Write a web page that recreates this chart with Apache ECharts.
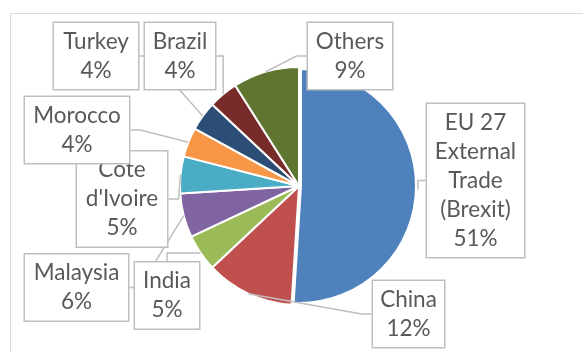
<!DOCTYPE html>
<html>
<head>
<meta charset="utf-8">
<script src="https://cdn.jsdelivr.net/npm/echarts@6/dist/echarts.min.js"></script>
<style>
html,body{margin:0;padding:0;background:#fff;}
#chart{width:583px;height:352px;}
</style>
</head>
<body>
<div id="chart"></div>
<script>
// Data
const categories = ["EU 27 External Trade (Brexit)", "China", "India", "Malaysia", "Cote d'Ivoire", "Morocco", "Turkey", "Brazil", "Others"];
const labelNames = ["EU 27\nExternal\nTrade\n(Brexit)", "China", "India", "Malaysia", "Cote\nd'Ivoire", "Morocco", "Turkey", "Brazil", "Others"];
const shares = [51, 12, 5, 6, 5, 4, 4, 4, 9];

// Styling / layout (not data)
const colors = ["#4F81BD", "#C0504D", "#9BBB59", "#8064A2", "#4BACC6", "#F79646", "#2C4D75", "#772C2A", "#5F7530"];
const sliceBorder = [6, 2, 2, 2, 2, 2, 2, 2, 2];
const labelBoxes = [
  {cx: 475.5, cy: 180.5, w: 97},
  {cx: 408.5, cy: 314, w: 71},
  {cx: 167, cy: 295.5, w: 64},
  {cx: 76.5, cy: 287.5, w: 103},
  {cx: 122, cy: 199, w: 90},
  {cx: 77, cy: 130, w: 104},
  {cx: 96, cy: 56, w: 84},
  {cx: 180, cy: 56, w: 70},
  {cx: 350, cy: 56, w: 84}
];

const chart = echarts.init(document.getElementById('chart'), null, {renderer: 'canvas'});

const seriesData = categories.map((name, i) => ({
  name: name,
  value: shares[i],
  itemStyle: {color: colors[i], borderWidth: sliceBorder[i]},
  label: {width: labelBoxes[i].w}
}));

chart.setOption({
  backgroundColor: '#ffffff',
  animation: false,
  graphic: [{
    type: 'rect',
    shape: {x: 10.5, y: 13.5, width: 800, height: 600},
    style: {fill: null, stroke: '#D9D9D9', lineWidth: 1},
    silent: true,
    z: -10
  }],
  series: [{
    type: 'pie',
    center: [299, 186],
    radius: 119,
    startAngle: 90,
    clockwise: true,
    avoidLabelOverlap: false,
    emphasis: {disabled: true},
    itemStyle: {borderColor: '#ffffff', borderWidth: 2},
    label: {
      show: true,
      position: 'outer',
      alignTo: 'none',
      formatter: (p) => labelNames[p.dataIndex] + '\n' + p.value + '%',
      fontFamily: 'Lato',
      fontSize: 22.5,
      lineHeight: 29,
      color: '#595959',
      align: 'center',
      backgroundColor: '#ffffff',
      borderColor: '#BFBFBF',
      borderWidth: 1.5,
      padding: [4, 0]
    },
    labelLine: {
      show: true,
      showAbove: true,
      length: 10,
      length2: 10,
      lineStyle: {color: '#BFBFBF', width: 1.5}
    },
    labelLayout: function (params) {
      const b = labelBoxes[params.dataIndex];
      return {x: b.cx, y: b.cy, align: 'center', verticalAlign: 'middle'};
    },
    data: seriesData
  }]
});
</script>
</body>
</html>
